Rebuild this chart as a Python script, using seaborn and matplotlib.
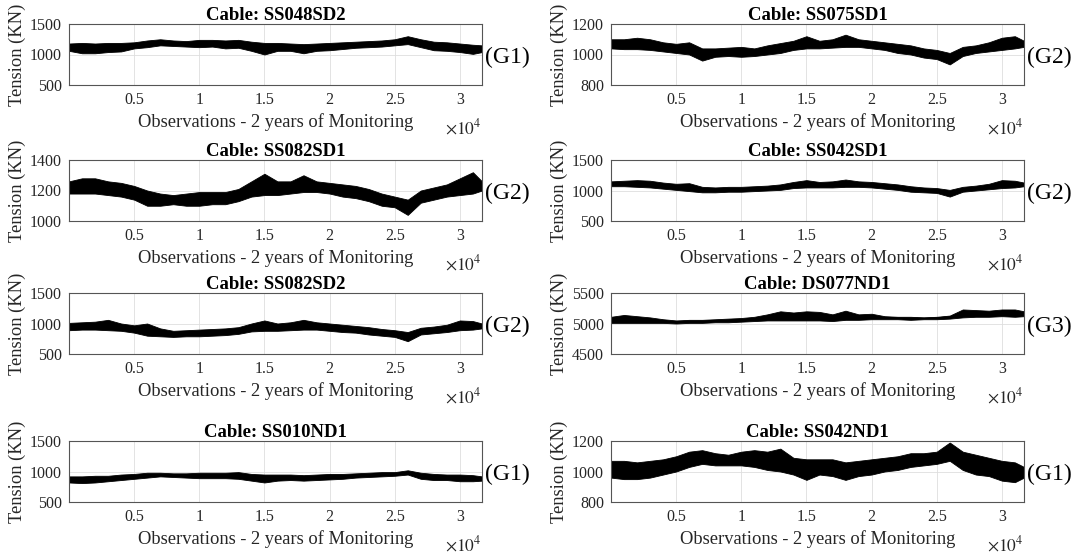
import pandas as pd
import matplotlib.pyplot as plt
import seaborn as sns

obs = [0, 1000, 2000, 3000, 4000, 5000, 6000, 7000, 8000, 9000, 10000,
       11000, 12000, 13000, 14000, 15000, 16000, 17000, 18000, 19000, 20000,
       21000, 22000, 23000, 24000, 25000, 26000, 27000, 28000, 29000, 30000,
       31000, 31700]

# lower / upper envelope of the tension signal (KN)
ss048sd2_lo = [1060, 1020, 1020, 1040, 1050, 1100, 1120, 1150, 1140, 1130, 1120,
               1130, 1100, 1110, 1060, 1000, 1060, 1060, 1020, 1060, 1070,
               1090, 1110, 1120, 1130, 1150, 1170, 1120, 1070, 1060, 1040, 1010, 1040]
ss048sd2_hi = [1180, 1190, 1180, 1190, 1190, 1200, 1230, 1250, 1230, 1220, 1240,
               1240, 1230, 1240, 1210, 1190, 1190, 1180, 1170, 1180, 1190,
               1200, 1210, 1220, 1230, 1250, 1300, 1250, 1210, 1200, 1180, 1160, 1150]

ss082sd1_lo = [1180, 1180, 1180, 1170, 1160, 1140, 1100, 1100, 1110, 1100, 1100,
               1110, 1110, 1130, 1160, 1170, 1170, 1180, 1190, 1190, 1180,
               1160, 1150, 1130, 1100, 1090, 1040, 1120, 1140, 1160, 1170, 1180, 1200]
ss082sd1_hi = [1260, 1280, 1280, 1260, 1250, 1230, 1200, 1180, 1170, 1180, 1190,
               1190, 1190, 1210, 1260, 1310, 1260, 1260, 1300, 1260, 1250,
               1240, 1230, 1210, 1180, 1160, 1140, 1200, 1220, 1240, 1280, 1320, 1260]

ss082sd2_lo = [890, 900, 900, 890, 880, 850, 800, 790, 780, 790, 790,
               800, 810, 830, 870, 880, 880, 890, 900, 900, 880,
               860, 850, 820, 800, 780, 710, 820, 840, 860, 890, 900, 920]
ss082sd2_hi = [1010, 1020, 1030, 1060, 1000, 970, 1000, 920, 880, 890, 900,
               910, 920, 940, 1000, 1050, 1000, 1020, 1060, 1020, 1000,
               980, 960, 940, 910, 890, 860, 930, 950, 980, 1050, 1040, 1000]

ss010nd1_lo = [820, 810, 820, 840, 860, 880, 900, 920, 910, 900, 890,
               890, 890, 880, 850, 820, 850, 860, 850, 860, 870,
               880, 900, 910, 920, 930, 950, 880, 860, 860, 840, 840, 850]
ss010nd1_hi = [920, 920, 930, 930, 950, 960, 980, 980, 970, 970, 980,
               980, 980, 990, 960, 950, 950, 950, 940, 950, 960,
               960, 970, 980, 990, 990, 1020, 980, 960, 950, 950, 940, 920]

ss075sd1_lo = [1040, 1035, 1035, 1030, 1020, 1010, 1000, 960, 985, 990, 985,
               990, 1000, 1010, 1030, 1040, 1040, 1045, 1050, 1050, 1040,
               1030, 1010, 1000, 980, 970, 935, 990, 1010, 1020, 1030, 1040, 1050]
ss075sd1_hi = [1100, 1100, 1110, 1100, 1080, 1070, 1080, 1040, 1040, 1045, 1050,
               1040, 1060, 1075, 1090, 1120, 1090, 1100, 1130, 1100, 1090,
               1080, 1070, 1060, 1040, 1030, 1010, 1050, 1060, 1080, 1110, 1120, 1090]

ss042sd1_lo = [1070, 1070, 1060, 1050, 1030, 1010, 990, 970, 970, 980, 980,
               990, 1000, 1010, 1040, 1050, 1050, 1050, 1060, 1060, 1050,
               1030, 1010, 980, 970, 960, 900, 980, 1000, 1020, 1040, 1050, 1070]
ss042sd1_hi = [1150, 1160, 1170, 1160, 1130, 1110, 1120, 1060, 1050, 1060, 1060,
               1070, 1080, 1100, 1140, 1170, 1140, 1150, 1180, 1150, 1140,
               1120, 1100, 1070, 1050, 1040, 1010, 1060, 1080, 1110, 1170, 1160, 1130]

ds077nd1_lo = [5010, 5010, 5010, 5010, 5010, 5000, 5010, 5010, 5020, 5020, 5030,
               5040, 5050, 5050, 5050, 5050, 5050, 5040, 5060, 5060, 5070,
               5070, 5070, 5060, 5070, 5070, 5080, 5100, 5110, 5110, 5120, 5110, 5120]
ds077nd1_hi = [5110, 5140, 5120, 5100, 5070, 5050, 5060, 5060, 5070, 5080, 5090,
               5110, 5150, 5200, 5180, 5200, 5190, 5150, 5210, 5150, 5160,
               5120, 5110, 5110, 5100, 5110, 5130, 5230, 5220, 5210, 5230, 5230, 5200]

ss042nd1_lo = [960, 950, 950, 960, 980, 1000, 1030, 1050, 1040, 1040, 1040,
               1030, 1010, 1000, 980, 945, 980, 970, 945, 970, 980,
               1000, 1010, 1030, 1040, 1050, 1070, 1010, 980, 970, 940, 930, 960]
ss042nd1_hi = [1070, 1070, 1060, 1070, 1080, 1100, 1130, 1140, 1120, 1110, 1130,
               1140, 1130, 1150, 1090, 1080, 1080, 1080, 1060, 1070, 1080,
               1090, 1100, 1120, 1120, 1130, 1190, 1130, 1110, 1090, 1070, 1060, 1030]

# left column top->bottom, then right column top->bottom
cables = ['SS048SD2', 'SS082SD1', 'SS082SD2', 'SS010ND1',
          'SS075SD1', 'SS042SD1', 'DS077ND1', 'SS042ND1']
groups = ['(G1)', '(G2)', '(G2)', '(G1)', '(G2)', '(G2)', '(G3)', '(G1)']
lows = [ss048sd2_lo, ss082sd1_lo, ss082sd2_lo, ss010nd1_lo,
        ss075sd1_lo, ss042sd1_lo, ds077nd1_lo, ss042nd1_lo]
highs = [ss048sd2_hi, ss082sd1_hi, ss082sd2_hi, ss010nd1_hi,
         ss075sd1_hi, ss042sd1_hi, ds077nd1_hi, ss042nd1_hi]
yticks = [[500, 1000, 1500], [1000, 1200, 1400], [500, 1000, 1500], [500, 1000, 1500],
          [800, 1000, 1200], [500, 1000, 1500], [4500, 5000, 5500], [800, 1000, 1200]]
xticks = [5000, 10000, 15000, 20000, 25000, 30000]
xtick_labels = ['0.5', '1', '1.5', '2', '2.5', '3']

sns.set_theme(style='white')
plt.rcParams['font.family'] = ['Liberation Serif', 'DejaVu Serif']
plt.rcParams['mathtext.fontset'] = 'stix'

W, H = 1092, 559
fig = plt.figure(figsize=(W / 100, H / 100), dpi=100)
col_left = [69, 611]
row_top = [24, 160, 293, 441]
ax_w, ax_h = 413, 61
dark = '#262626'

for i, cable in enumerate(cables):
    col, row = divmod(i, 4)
    ax = fig.add_axes([col_left[col] / W, 1 - (row_top[row] + ax_h) / H, ax_w / W, ax_h / H])

    df = pd.DataFrame({'obs': obs + obs, 'tension': lows[i] + highs[i]})
    sns.lineplot(data=df, x='obs', y='tension', estimator='mean', errorbar=('pi', 100),
                 color='black', lw=1, err_kws={'alpha': 1, 'linewidth': 0.6, 'edgecolor': 'black'},
                 ax=ax)

    ax.set_xlim(0, 31700)
    ax.set_ylim(yticks[i][0], yticks[i][-1])
    ax.set_yticks(yticks[i])
    ax.set_xticks(xticks)
    ax.set_xticklabels(xtick_labels)
    ax.tick_params(direction='in', length=3, width=0.6, colors=dark, labelsize=11.5, pad=5)
    ax.grid(True, color='#dedede', lw=0.6)
    for s in ax.spines.values():
        s.set_color('#555555')
        s.set_linewidth(0.8)

    ax.set_title(f'Cable: {cable}', fontsize=13.5, fontweight='bold', pad=3, color='black')
    ax.set_xlabel('Observations - 2 years of Monitoring', fontsize=13.3, color=dark, labelpad=4)
    ax.set_ylabel('Tension (KN)', fontsize=13.3, color=dark, labelpad=3)
    ax.text(1.0, -0.7, r'$\times 10^{4}$', transform=ax.transAxes, ha='right', va='center',
            fontsize=12.5, color=dark)
    ax.text(1.008, 0.45, groups[i], transform=ax.transAxes, ha='left', va='center',
            fontsize=17, color='black')

fig.savefig('out.png', dpi=100)
